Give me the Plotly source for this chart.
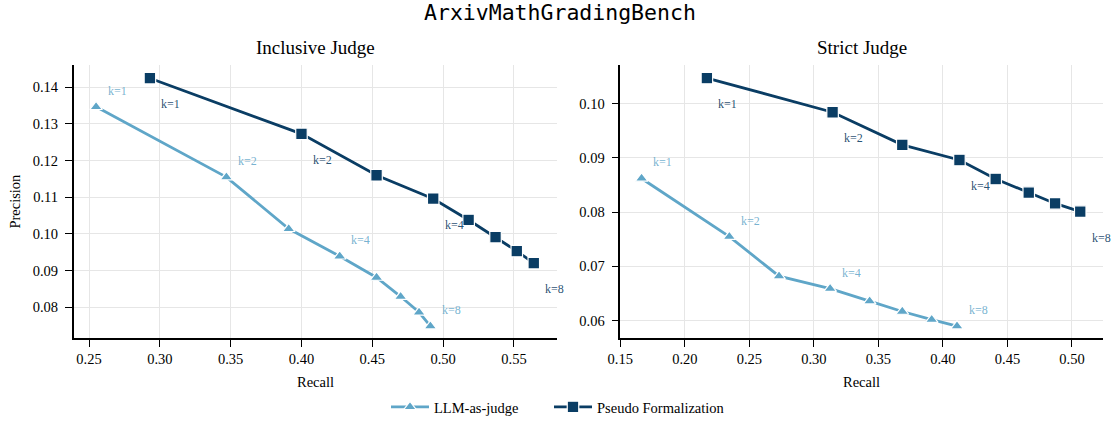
import plotly.graph_objects as go

k_values = [1, 2, 3, 4, 5, 6, 7, 8]
labeled_k = [1, 2, 4, 8]

incl_llm_recall = [0.255, 0.347, 0.391, 0.427, 0.453, 0.470, 0.483, 0.491]
incl_llm_prec = [0.1347, 0.1155, 0.1014, 0.0939, 0.0881, 0.0829, 0.0786, 0.0748]
incl_pf_recall = [0.293, 0.400, 0.453, 0.493, 0.518, 0.537, 0.552, 0.564]
incl_pf_prec = [0.1425, 0.1273, 0.1160, 0.1096, 0.1038, 0.0991, 0.0953, 0.0920]

strict_llm_recall = [0.1665, 0.2345, 0.273, 0.3126, 0.3432, 0.3685, 0.3913, 0.4109]
strict_llm_prec = [0.0862, 0.0755, 0.0682, 0.0659, 0.0636, 0.0617, 0.0602, 0.0590]
strict_pf_recall = [0.2171, 0.3145, 0.3685, 0.4128, 0.4409, 0.4665, 0.4869, 0.5064]
strict_pf_prec = [0.1047, 0.0984, 0.0924, 0.0896, 0.0861, 0.0836, 0.0816, 0.0801]

series_names = ["LLM-as-judge", "Pseudo Formalization"]
LLM_COLOR = "#5fa6c8"
PF_COLOR = "#0a3d64"
SERIF = "Liberation Serif"

W, H = 1116, 421


def px(xp):
    return xp / W


def py(yp):
    return 1 - yp / H


fig = go.Figure()

panels = [
    ("x", "y", incl_llm_recall, incl_llm_prec, incl_pf_recall, incl_pf_prec, True),
    ("x2", "y2", strict_llm_recall, strict_llm_prec, strict_pf_recall, strict_pf_prec, False),
]

annotations = []
for xa, ya, lr, lp, pr, pp, show in panels:
    fig.add_trace(go.Scatter(
        x=lr, y=lp, xaxis=xa, yaxis=ya, mode="lines+markers", name=series_names[0],
        line=dict(color=LLM_COLOR, width=2.8),
        marker=dict(symbol="triangle-up", size=11, color=LLM_COLOR, line=dict(color="white", width=1.2)),
        showlegend=show, legendgroup="llm", legend="legend"))
    fig.add_trace(go.Scatter(
        x=pr, y=pp, xaxis=xa, yaxis=ya, mode="lines+markers", name=series_names[1],
        line=dict(color=PF_COLOR, width=2.8),
        marker=dict(symbol="square", size=11.5, color=PF_COLOR, line=dict(color="white", width=1.2)),
        showlegend=show, legendgroup="pf", legend="legend2"))
    for i, k in enumerate(k_values):
        if k in labeled_k:
            annotations.append(dict(x=lr[i], y=lp[i], xref=xa, yref=ya, text=f"k={k}",
                                    showarrow=False, xshift=21, yshift=16,
                                    font=dict(family=SERIF, size=12, color="rgba(95,166,200,0.85)")))
            annotations.append(dict(x=pr[i], y=pp[i], xref=xa, yref=ya, text=f"k={k}",
                                    showarrow=False, xshift=21, yshift=-26,
                                    font=dict(family=SERIF, size=12, color="rgba(10,61,100,0.9)")))

ydom = [py(338.3), py(65)]
FS = 14.5
axis_common = dict(showline=True, linecolor="black", linewidth=1.5, ticks="outside", ticklen=7,
                   tickwidth=1.3, tickcolor="black", showgrid=True, gridcolor="#e6e6e6", gridwidth=1,
                   zeroline=False, tickfont=dict(family=SERIF, size=FS, color="black"),
                   mirror=False, automargin=False)
xtitle = dict(text="Recall", font=dict(family=SERIF, size=FS, color="black"), standoff=10)
legend_common = dict(orientation="h", xanchor="left", y=py(407), yanchor="middle",
                     font=dict(family=SERIF, size=FS, color="black"), bgcolor="rgba(0,0,0,0)",
                     itemwidth=38, tracegroupgap=0)

fig.update_layout(
    width=W, height=H,
    margin=dict(l=0, r=0, t=0, b=0, autoexpand=False),
    plot_bgcolor="white", paper_bgcolor="white",
    xaxis=dict(domain=[px(73.7), px(557.3)], range=[0.2392, 0.5806], tickvals=[0.25, 0.30, 0.35, 0.40, 0.45, 0.50, 0.55],
               ticktext=["0.25", "0.30", "0.35", "0.40", "0.45", "0.50", "0.55"], anchor="y",
               title=xtitle, **axis_common),
    yaxis=dict(domain=ydom, range=[0.0715, 0.1461], tickvals=[0.08, 0.09, 0.10, 0.11, 0.12, 0.13, 0.14],
               ticktext=["0.08", "0.09", "0.10", "0.11", "0.12", "0.13", "0.14"], anchor="x",
               ticklabelstandoff=4,
               title=dict(text="Precision", font=dict(family=SERIF, size=FS, color="black"), standoff=9), **axis_common),
    xaxis2=dict(domain=[px(620.3), px(1102.7)], range=[0.15, 0.5238], tickvals=[0.15, 0.20, 0.25, 0.30, 0.35, 0.40, 0.45, 0.50],
                ticktext=["0.15", "0.20", "0.25", "0.30", "0.35", "0.40", "0.45", "0.50"], anchor="y2",
                title=xtitle, **axis_common),
    yaxis2=dict(domain=ydom, range=[0.05676, 0.1071], tickvals=[0.06, 0.07, 0.08, 0.09, 0.10],
                ticktext=["0.06", "0.07", "0.08", "0.09", "0.10"], anchor="x2", ticklabelstandoff=4, **axis_common),
    legend=dict(x=px(386), **legend_common),
    legend2=dict(x=px(549), **legend_common),
    annotations=annotations + [
        dict(text="ArxivMathGradingBench", x=px(560), y=py(13), xref="paper", yref="paper",
             showarrow=False, font=dict(family="DejaVu Sans Mono", size=21.5, color="black"),
             xanchor="center", yanchor="middle"),
        dict(text="Inclusive Judge", x=px(315.5), y=py(47), xref="paper", yref="paper",
             showarrow=False, font=dict(family=SERIF, size=19, color="black"), xanchor="center", yanchor="middle"),
        dict(text="Strict Judge", x=px(861.5), y=py(47), xref="paper", yref="paper",
             showarrow=False, font=dict(family=SERIF, size=19, color="black"), xanchor="center", yanchor="middle"),
    ],
)

fig.write_html("out.html", config={"displayModeBar": False},
               post_script="document.body.style.margin='0px';document.body.style.overflow='hidden';")
